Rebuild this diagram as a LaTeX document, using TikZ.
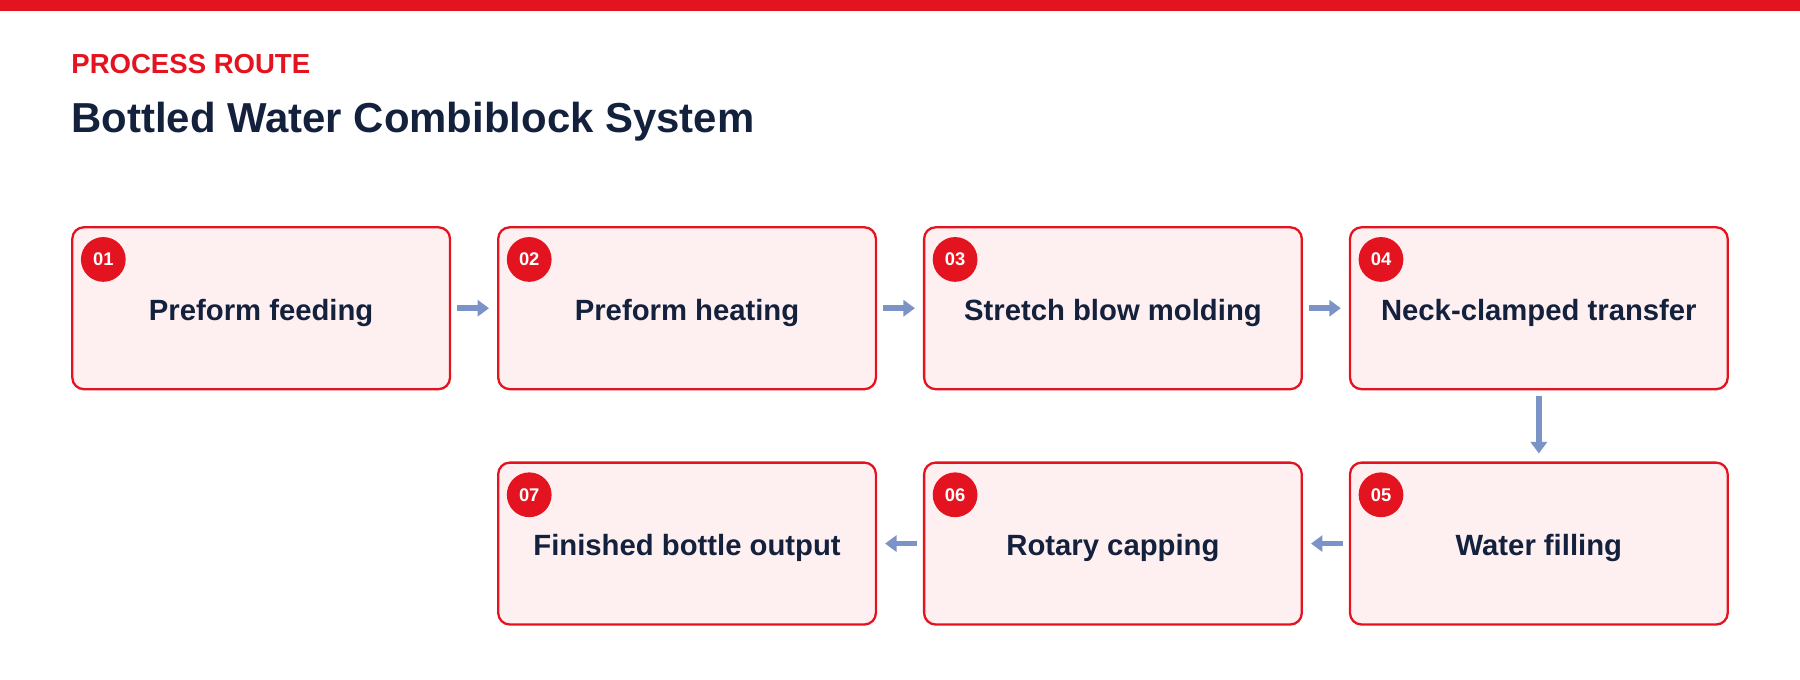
\documentclass[tikz,border=0pt]{standalone}
\usepackage{fontspec}
\setmainfont{Liberation Sans}
\usetikzlibrary{arrows.meta}
\definecolor{red1}{HTML}{E3141F}
\definecolor{navy}{HTML}{14213D}
\definecolor{pink}{HTML}{FEF0F1}
\definecolor{arr}{HTML}{7B93C6}
\begin{document}
\begin{tikzpicture}[x=1pt,y=-1pt,
  stepbox/.style={draw=red1,line width=2pt,fill=pink,rounded corners=10pt,minimum width=329pt,minimum height=141pt,anchor=north west,inner sep=0pt},
  lbl/.style={font=\fontsize{25.5}{30}\selectfont\bfseries,text=navy},
  badge/.style={circle,fill=red1,minimum size=39pt,inner sep=0pt,font=\fontsize{16}{18}\selectfont\bfseries,text=white},
  flow/.style={draw=arr,line width=5pt,-{Triangle[length=10pt,width=14pt]},shorten >=1pt}]
\useasboundingbox (0,0) rectangle (1568,592);
\fill[red1] (0,0) rectangle (1568,10);
\node[anchor=base west,inner sep=0pt,text=red1,font=\fontsize{24}{28}\selectfont\bfseries] (t1) at (62,64) {PROCESS ROUTE};
\node[anchor=base west,inner sep=0pt,text=navy,font=\fontsize{36.5}{42}\selectfont\bfseries] (t2) at (62,115) {Bottled Water Combiblock System};
\foreach \n/\x/\y/\t in {1/62/197/Preform feeding,2/433/197/Preform heating,3/804/197/Stretch blow molding,4/1175/197/Neck-clamped transfer,5/1175/402/Water filling,6/804/402/Rotary capping,7/433/402/Finished bottle output}{
  \node[stepbox] (b\n) at (\x,\y) {};
  \node[lbl] (l\n) at ([yshift=-4pt]b\n.center) {\t};
  \node[badge] (c\n) at ([xshift=28pt,yshift=-29pt]b\n.north west) {0\n};
}
\draw[flow] ([xshift=5pt]b1.east) -- ([xshift=-6pt]b2.west);
\draw[flow] ([xshift=5pt]b2.east) -- ([xshift=-6pt]b3.west);
\draw[flow] ([xshift=5pt]b3.east) -- ([xshift=-6pt]b4.west);
\draw[flow] ([yshift=-5pt]b4.south) -- ([yshift=6pt]b5.north);
\draw[flow] ([xshift=-5pt]b5.west) -- ([xshift=6pt]b6.east);
\draw[flow] ([xshift=-5pt]b6.west) -- ([xshift=6pt]b7.east);
\end{tikzpicture}
\end{document}
